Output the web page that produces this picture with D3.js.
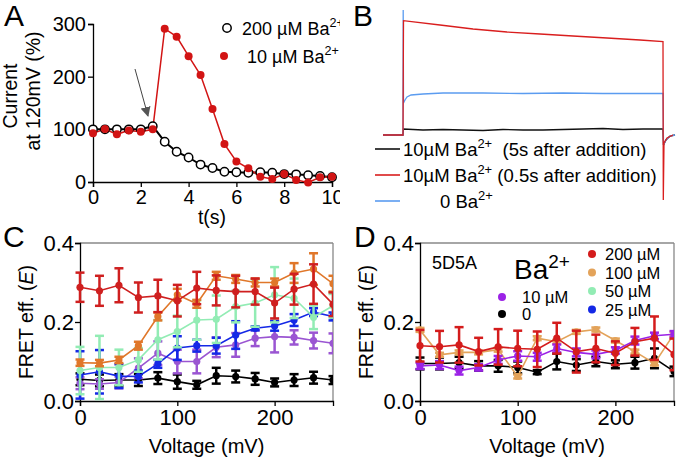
<!DOCTYPE html>
<html><head><meta charset="utf-8">
<script src="https://cdn.jsdelivr.net/npm/d3@7"></script>
<style>body{margin:0;background:#fff}svg{display:block;font-family:"Liberation Sans",Arial,sans-serif}</style>
</head><body>
<script>
// ---------- DATA ----------
// Panel A
const timeA = [0,0.5,1,1.5,2,2.5,3,3.5,4,4.5,5,5.5,6,6.5,7,7.5,8,8.5,9,9.5,10];
const ba200A = [100,100,100,100,100,106,76.5,57.5,46.5,33,26.5,19.6,18.4,17.7,18.4,17.7,15,14.5,13,11.4,9];
const ba10A  = [92.5,100.5,90.5,98,95.5,100,291,276,239,203,138.5,72,39,26,10,5.7,15,4,-1,9,10];
const xTicksA = [0,2,4,6,8,10];
const yTicksA = [0,100,200,300];
// Panel B traces [time(ms), current(a.u.)]
const traceBlack = [[0,0],[20,0],[20.5,6],[40,5],[60,5.5],[80,5],[100,4.5],[120,5.5],[140,5],[160,5],[180,5.5],[200,6],[220,6.5],[240,5.5],[260,6],[280,6],[280.5,-10],[283,-5],[287,-1],[292,0]];
const traceBlue  = [[0,0],[20,0],[20.2,125],[20.5,32],[22,35],[24,38],[28,40],[40,41],[60,42],[100,42],[140,41.5],[180,42],[220,41.5],[260,41.5],[280,41.7],[280.5,-10],[283,-5],[287,-1],[292,0]];
const traceRed   = [[0,0],[20,0],[20.5,114.3],[57,110],[90,106],[124,103],[157,101],[190,99],[224,97],[257,95],[280,93.3],[280.3,-65],[281,-8],[284,-3],[290,0]];
const legendB = ["(5s after addition)","(0.5s after addition)",""];
// Panel C/D
const voltage = [0,20,40,60,80,100,120,140,160,180,200,220,240,260];
const xTicksCD = [0,100,200];
const yTicksCD = [0,0.2,0.4];
const c200 = [0.288,0.279,0.293,0.262,0.266,0.254,0.286,0.280,0.277,0.277,0.248,0.283,0.296,0.245];
const c200e = [0.037,0.038,0.043,0.038,0.041,0.04,0.041,0.038,0.04,0.033,0.039,0.039,0.05,0.03];
const c100 = [0.097,0.096,0.104,0.14,0.214,0.269,0.246,0.317,0.309,0.300,0.300,0.324,0.334,0.297];
const c100e = [0.008,0.008,0.008,0.01,0.01,0.015,0.01,0.01,0.01,0.01,0.01,0.025,0.04,0.02];
const c50 = [0.077,0.085,0.085,0.104,0.155,0.176,0.205,0.207,0.239,0.248,0.269,0.26,0.212,0.241];
const c50e = [0.06,0.08,0.045,0.03,0.05,0.04,0.05,0.06,0.04,0.06,0.07,0.05,0.03,0.03];
const c25 = [0.066,0.074,0.063,0.062,0.094,0.134,0.14,0.14,0.167,0.184,0.19,0.205,0.225,0.214];
const c25e = [0.06,0.055,0.03,0.015,0.01,0.03,0.015,0.02,0.035,0.005,0.012,0.015,0.01,0.01];
const c10 = [0.045,0.043,0.047,0.083,0.121,0.1,0.1,0.136,0.142,0.159,0.163,0.161,0.153,0.146];
const c10e = [0.015,0.012,0.015,0.025,0.03,0.03,0.03,0.025,0.03,0.02,0.04,0.018,0.02,0.025];
const c0 = [0.055,0.052,0.053,0.053,0.058,0.049,0.041,0.064,0.062,0.056,0.047,0.053,0.059,0.053];
const c0e = [0.015,0.015,0.015,0.015,0.015,0.018,0.01,0.02,0.015,0.015,0.01,0.015,0.015,0.01];
const d200 = [0.14,0.1375,0.142,0.125,0.137,0.133,0.131,0.159,0.125,0.133,0.121,0.15,0.159,0.118];
const d200e = [0.04,0.04,0.045,0.035,0.045,0.045,0.045,0.039,0.053,0.035,0.03,0.035,0.055,0.04];
const d100 = [0.18,0.117,0.123,0.123,0.13,0.062,0.159,0.15,0.175,0.181,0.153,0.125,0.095,0.17];
const d100e = [0.005,0.005,0.005,0.005,0.005,0.005,0.005,0.005,0.005,0.005,0.005,0.005,0.005,0.005];
const d10 = [0.089,0.091,0.077,0.085,0.104,0.114,0.112,0.133,0.123,0.118,0.128,0.153,0.165,0.169];
const d10e = [0.008,0.01,0.01,0.008,0.01,0.012,0.01,0.01,0.01,0.01,0.008,0.01,0.008,0.008];
const d0 = [0.095,0.095,0.097,0.089,0.089,0.085,0.073,0.1,0.091,0.1,0.093,0.097,0.108,0.075];
const d0e = [0.015,0.015,0.015,0.012,0.015,0.015,0.005,0.02,0.015,0.012,0.01,0.015,0.025,0.012];

// ---------- DRAW ----------
const FONT = '"Liberation Sans",Arial,sans-serif';
const svg = d3.select("body").append("svg").attr("width",678).attr("height",459);
const defs = svg.append("defs");

function styleAxis(g, fs){
  g.selectAll(".domain").attr("stroke","#000").attr("stroke-width",1.3);
  g.selectAll(".tick line").attr("stroke","#000").attr("stroke-width",1.3);
  g.selectAll(".tick text").attr("font-size",fs).attr("font-family",FONT).attr("fill","#000");
}
function panelLetter(t,x,y){
  svg.append("text").attr("x",x).attr("y",y).attr("font-size",30).attr("font-family",FONT).text(t);
}
function supText(sel, base, sup, rest, fs){
  const t = sel;
  t.append("tspan").text(base);
  t.append("tspan").attr("dy",-8).attr("font-size",fs*0.7).text(sup);
  if(rest!==undefined) t.append("tspan").attr("dy",8).text(rest);
}

// ===== Panel A =====
panelLetter("A",4,26);
defs.append("clipPath").attr("id","clipA").append("rect").attr("x",0).attr("y",0).attr("width",340).attr("height",459);
const gA = svg.append("g").attr("clip-path","url(#clipA)");
const xA = d3.scaleLinear().domain([0,10]).range([93,332]);
const yA = d3.scaleLinear().domain([0,300]).range([182,24]);
gA.append("g").attr("transform","translate(0,182)")
  .call(d3.axisBottom(xA).tickValues(xTicksA).tickSize(5).tickPadding(3).tickFormat(d3.format("d")))
  .call(g=>styleAxis(g,20));
gA.append("g").attr("transform","translate(93,0)")
  .call(d3.axisLeft(yA).tickValues(yTicksA).tickSize(5).tickPadding(2).tickFormat(d3.format("d")))
  .call(g=>styleAxis(g,20));
// y label
gA.append("text").attr("transform","translate(17,96) rotate(-90)").attr("text-anchor","middle").attr("font-size",19.5).attr("font-family",FONT).text("Current");
gA.append("text").attr("transform","translate(40,91) rotate(-90)").attr("text-anchor","middle").attr("font-size",19.5).attr("font-family",FONT).text("at 120mV (%)");
gA.append("text").attr("x",212).attr("y",224).attr("text-anchor","middle").attr("font-size",19.5).attr("font-family",FONT).text("t(s)");
// arrow
defs.append("marker").attr("id","arrowA").attr("viewBox","0 0 10 10").attr("refX",9).attr("refY",5)
  .attr("markerWidth",10).attr("markerHeight",10).attr("markerUnits","userSpaceOnUse").attr("orient","auto")
  .append("path").attr("d","M0,0 L10,5 L0,10 Z").attr("fill","#555");
gA.append("line").attr("x1",135).attr("y1",69).attr("x2",148).attr("y2",116).attr("stroke","#444").attr("stroke-width",1).attr("marker-end","url(#arrowA)");
const lineA = d3.line().x((d,i)=>xA(timeA[i])).y(d=>yA(d));
gA.append("path").datum(ba200A).attr("d",lineA).attr("fill","none").attr("stroke","#000").attr("stroke-width",2);
gA.append("path").datum(ba10A).attr("d",lineA).attr("fill","none").attr("stroke","#d21414").attr("stroke-width",1.5);
gA.selectAll(".o200").data(ba200A).join("circle").attr("cx",(d,i)=>xA(timeA[i])).attr("cy",d=>yA(d)).attr("r",4.2)
  .attr("fill","#fff").attr("stroke","#000").attr("stroke-width",1.5);
gA.selectAll(".o10").data(ba10A).join("circle").attr("cx",(d,i)=>xA(timeA[i])).attr("cy",d=>yA(d)).attr("r",4).attr("fill","#d21414");
// legend A
gA.append("circle").attr("cx",227).attr("cy",28).attr("r",4.2).attr("fill","#fff").attr("stroke","#000").attr("stroke-width",1.5);
supText(gA.append("text").attr("x",242).attr("y",35).attr("font-size",18).attr("font-family",FONT),"200 µM Ba","2+",undefined,18);
gA.append("circle").attr("cx",224).attr("cy",56).attr("r",4).attr("fill","#d21414");
supText(gA.append("text").attr("x",247).attr("y",63).attr("font-size",18).attr("font-family",FONT),"10 µM Ba","2+",undefined,18);

// ===== Panel B =====
panelLetter("B",353,26);
const xB = d3.scaleLinear().domain([0,290]).range([383,673]);
const yB = d3.scaleLinear().domain([-70,130]).range([205,5]);
const lineB = d3.line().x(d=>xB(d[0])).y(d=>yB(d[1]));
svg.append("path").datum(traceBlack).attr("d",lineB).attr("fill","none").attr("stroke","#111").attr("stroke-width",1.3);
svg.append("path").datum(traceBlue).attr("d",lineB).attr("fill","none").attr("stroke","#5b9cf0").attr("stroke-width",1.3);
svg.append("path").datum(traceRed).attr("d",lineB).attr("fill","none").attr("stroke","#d91e1e").attr("stroke-width",1.3);
const legB = [{c:"#111",y:149,x:403,base:"10µM Ba",rest:"  "+legendB[0]},{c:"#d91e1e",y:175,x:403,base:"10µM Ba",rest:" "+legendB[1]},{c:"#5b9cf0",y:201,x:440,base:"0 Ba",rest:""}];
legB.forEach(l=>{
  svg.append("line").attr("x1",375).attr("x2",400).attr("y1",l.y).attr("y2",l.y).attr("stroke",l.c).attr("stroke-width",1.6);
  const t = svg.append("text").attr("x",l.x).attr("y",l.y+7).attr("font-size",18.5).attr("font-family",FONT).attr("xml:space","preserve").style("white-space","pre");
  supText(t,l.base,"2+",l.rest,18.5);
});

// ===== Panels C / D =====
function fretPanel(x0,x1,letter,lx,series){
  panelLetter(letter,lx,247);
  const x = d3.scaleLinear().domain([0,260]).range([x0,x1]);
  const y = d3.scaleLinear().domain([0,0.4]).range([401,243]);
  const g = svg.append("g");
  g.append("line").attr("x1",x0).attr("x2",x1).attr("y1",243).attr("y2",243).attr("stroke","#888").attr("stroke-width",1.3);
  g.append("line").attr("x1",x1).attr("x2",x1).attr("y1",243).attr("y2",401).attr("stroke","#888").attr("stroke-width",1.3);
  g.append("g").attr("transform","translate(0,401)")
    .call(d3.axisBottom(x).tickValues(xTicksCD).tickSize(5).tickPadding(3).tickFormat(d3.format("d")))
    .call(a=>styleAxis(a,22));
  g.append("g").attr("transform",`translate(${x0},0)`)
    .call(d3.axisLeft(y).tickValues(yTicksCD).tickSize(5).tickPadding(1).tickFormat(d3.format(".1f")))
    .call(a=>styleAxis(a,22));
  const yl = g.append("text").attr("transform",`translate(${x0-47},322) rotate(-90)`).attr("text-anchor","middle").attr("font-size",19.5).attr("font-family",FONT);
  yl.append("tspan").text("FRET eff. (");
  yl.append("tspan").attr("font-style","italic").text("E");
  yl.append("tspan").text(")");
  g.append("text").attr("x",(x0+x1)/2).attr("y",453).attr("text-anchor","middle").attr("font-size",20).attr("font-family",FONT).text("Voltage (mV)");
  const cid = "clip"+letter;
  defs.append("clipPath").attr("id",cid).append("rect").attr("x",x0-10).attr("y",225).attr("width",x1-x0+10).attr("height",185);
  const p = g.append("g").attr("clip-path",`url(#${cid})`);
  const line = d3.line().x((d,i)=>x(voltage[i])).y(d=>y(d));
  series.forEach(s=>{
    const sg = p.append("g");
    sg.append("path").datum(s.v).attr("d",line).attr("fill","none").attr("stroke",s.c).attr("stroke-width",1.6);
    s.v.forEach((v,i)=>{
      const xx = x(voltage[i]), lo = y(v-s.e[i]), hi = y(v+s.e[i]);
      sg.append("line").attr("x1",xx).attr("x2",xx).attr("y1",lo).attr("y2",hi).attr("stroke",s.c).attr("stroke-width",2.5);
      sg.append("line").attr("x1",xx-4.5).attr("x2",xx+4.5).attr("y1",lo).attr("y2",lo).attr("stroke",s.c).attr("stroke-width",2.5);
      sg.append("line").attr("x1",xx-4.5).attr("x2",xx+4.5).attr("y1",hi).attr("y2",hi).attr("stroke",s.c).attr("stroke-width",2.5);
      sg.append("circle").attr("cx",xx).attr("cy",y(v)).attr("r",3.6).attr("fill",s.c);
    });
  });
  return g;
}
fretPanel(80,333,"C",3,[
  {v:c0,e:c0e,c:"#000"},
  {v:c10,e:c10e,c:"#9a55d2"},
  {v:c25,e:c25e,c:"#1428e6"},
  {v:c50,e:c50e,c:"#92ecb4"},
  {v:c100,e:c100e,c:"#e0772a"},
  {v:c200,e:c200e,c:"#cf1f1f"}
]);
fretPanel(420,674,"D",354,[
  {v:d0,e:d0e,c:"#000"},
  {v:d100,e:d100e,c:"#e3a35a"},
  {v:d10,e:d10e,c:"#9b22e6"},
  {v:d200,e:d200e,c:"#d41c1c"}
]);
// legend D
svg.append("text").attr("x",432).attr("y",269).attr("font-size",18).attr("font-family",FONT).text("5D5A");
const ba = svg.append("text").attr("x",514).attr("y",279).attr("font-size",28).attr("font-family",FONT);
ba.append("tspan").text("Ba");
ba.append("tspan").attr("dy",-11).attr("font-size",19).text("2+");
const legD = [
  {c:"#d41c1c",x:592,y:254,t:"200 µM"},
  {c:"#e3a35a",x:592,y:272.5,t:"100 µM"},
  {c:"#92ecb4",x:592,y:291,t:"50 µM"},
  {c:"#1428e6",x:592,y:309.5,t:"25 µM"},
  {c:"#9b22e6",x:502,y:297,t:"10 µM"},
  {c:"#000",x:502,y:314,t:"0"}
];
legD.forEach(l=>{
  svg.append("circle").attr("cx",l.x).attr("cy",l.y).attr("r",4).attr("fill",l.c);
  svg.append("text").attr("x",l.x+(l.x>550?13:20)).attr("y",l.y+6).attr("font-size",16.5).attr("font-family",FONT).text(l.t);
});
</script>
</body></html>
